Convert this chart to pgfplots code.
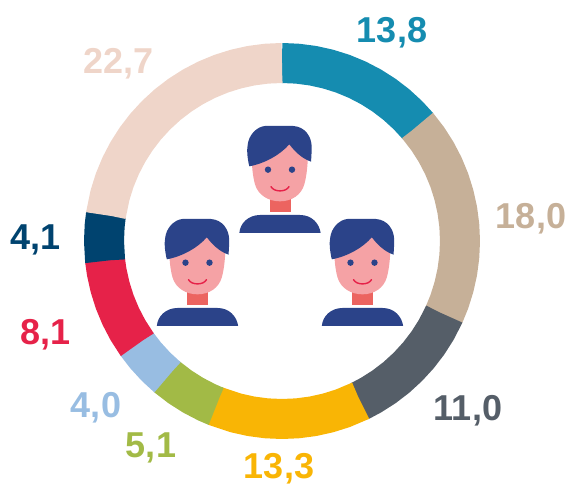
\documentclass[border=0pt]{standalone}
\usepackage{fontspec}
\setmainfont{Liberation Sans}
\usepackage{pgfplots}
\pgfplotsset{compat=1.18}
\usepgfplotslibrary{polar}
\definecolor{cA}{HTML}{158CB0}
\definecolor{cB}{HTML}{C6B098}
\definecolor{cC}{HTML}{555E68}
\definecolor{cD}{HTML}{F9B505}
\definecolor{cE}{HTML}{A2BA46}
\definecolor{cF}{HTML}{98BDE2}
\definecolor{cG}{HTML}{E62249}
\definecolor{cH}{HTML}{00436F}
\definecolor{cI}{HTML}{EFD5C9}
\definecolor{hair}{HTML}{2B4389}
\definecolor{skin}{HTML}{F5A2A5}
\definecolor{neck}{HTML}{EC6460}
\newcommand{\person}[2]{%
\begin{scope}[shift={(#1pt,{485pt-#2pt})},x=0.3333pt,y=-0.3333pt]
\fill[neck] (120,250) rectangle (182,290);
\fill[skin] (64,80) -- (66,150) .. controls (68,175) and (70,190) .. (75,208) .. controls (84,240) and (115,259) .. (150,259) .. controls (185,259) and (214,240) .. (223,208) .. controls (228,190) and (231,170) .. (233,140) -- (234,80) -- cycle;
\fill[hair] (105,33) -- (190,33) .. controls (225,35) and (245,65) .. (245,95) .. controls (245,115) and (244,128) .. (243,140) .. controls (215,130) and (195,110) .. (178,88) .. controls (150,120) and (105,145) .. (58,154) .. controls (52,130) and (50,105) .. (53,90) .. controls (56,60) and (80,35) .. (105,33) -- cycle;
\fill[hair] (28,354) .. controls (30,325) and (55,300) .. (90,300) -- (210,300) .. controls (245,300) and (268,325) .. (272,354) -- cycle;
\fill[hair] (114,164) circle[radius=3.2pt];
\fill[hair] (186,164) circle[radius=3.2pt];
\draw[cG,line width=1.4pt,line cap=round] (123,215) .. controls (132,232) and (168,232) .. (177,215);
\end{scope}}
\newcommand{\lab}[4]{\node[text=#1,font=\fontsize{36}{36}\selectfont\bfseries,inner sep=0pt,anchor=center] at (#2pt,{485pt-#3pt}) {#4};}
\begin{document}
\begin{tikzpicture}
\path[use as bounding box] (0,0) rectangle (568pt,485pt);
\begin{polaraxis}[at={(282pt,244pt)},anchor=center,hide axis,scale only axis,width=400pt,height=400pt,
  xmin=-270,xmax=90,ymin=0,ymax=200,clip=false,
  every axis plot/.append style={line width=40pt,line cap=butt,line join=round,no markers}]
\addplot[cA] coordinates {(90,178)(89.9,178)(85,178)(80,178)(75,178)(70,178)(65,178)(60,178)(55,178)(50,178)(45,178)(40.27,178)(40.17,178)};
\addplot[cB] coordinates {(40.37,178)(40.27,178)(35,178)(30,178)(25,178)(20,178)(15,178)(10,178)(5,178)(0,178)(-5,178)(-10,178)(-15,178)(-20,178)(-24.46,178)(-24.56,178)};
\addplot[cC] coordinates {(-24.36,178)(-24.46,178)(-30,178)(-35,178)(-40,178)(-45,178)(-50,178)(-55,178)(-60,178)(-64.02,178)(-64.12,178)};
\addplot[cD] coordinates {(-63.92,178)(-64.02,178)(-70,178)(-75,178)(-80,178)(-85,178)(-90,178)(-95,178)(-100,178)(-105,178)(-111.85,178)(-111.95,178)};
\addplot[cE] coordinates {(-111.75,178)(-111.85,178)(-115,178)(-120,178)(-125,178)(-130.19,178)(-130.29,178)};
\addplot[cF] coordinates {(-130.09,178)(-130.19,178)(-135,178)(-140,178)(-144.57,178)(-144.67,178)};
\addplot[cG] coordinates {(-144.47,178)(-144.57,178)(-150,178)(-155,178)(-160,178)(-165,178)(-170,178)(-173.70,178)(-173.80,178)};
\addplot[cH] coordinates {(-173.60,178)(-173.70,178)(-180,178)(-185,178)(-188.44,178)(-188.54,178)};
\addplot[cI] coordinates {(-188.34,178)(-188.44,178)(-195,178)(-200,178)(-205,178)(-210,178)(-215,178)(-220,178)(-225,178)(-230,178)(-235,178)(-240,178)(-245,178)(-250,178)(-255,178)(-260,178)(-265,178)(-269.9,178)(-270,178)};
\end{polaraxis}
\person{230}{115}
\person{147.5}{208}
\person{312.5}{208}
\lab{cA}{392}{32.5}{13,8}
\lab{cB}{531}{218.5}{18,0}
\lab{cC}{468}{410.5}{11,0}
\lab{cD}{279}{468.5}{13,3}
\lab{cE}{151}{447.5}{5,1}
\lab{cF}{96}{407.5}{4,0}
\lab{cG}{45.5}{334.5}{8,1}
\lab{cH}{35.5}{239.5}{4,1}
\lab{cI}{118.5}{63.5}{22,7}
\end{tikzpicture}
\end{document}
